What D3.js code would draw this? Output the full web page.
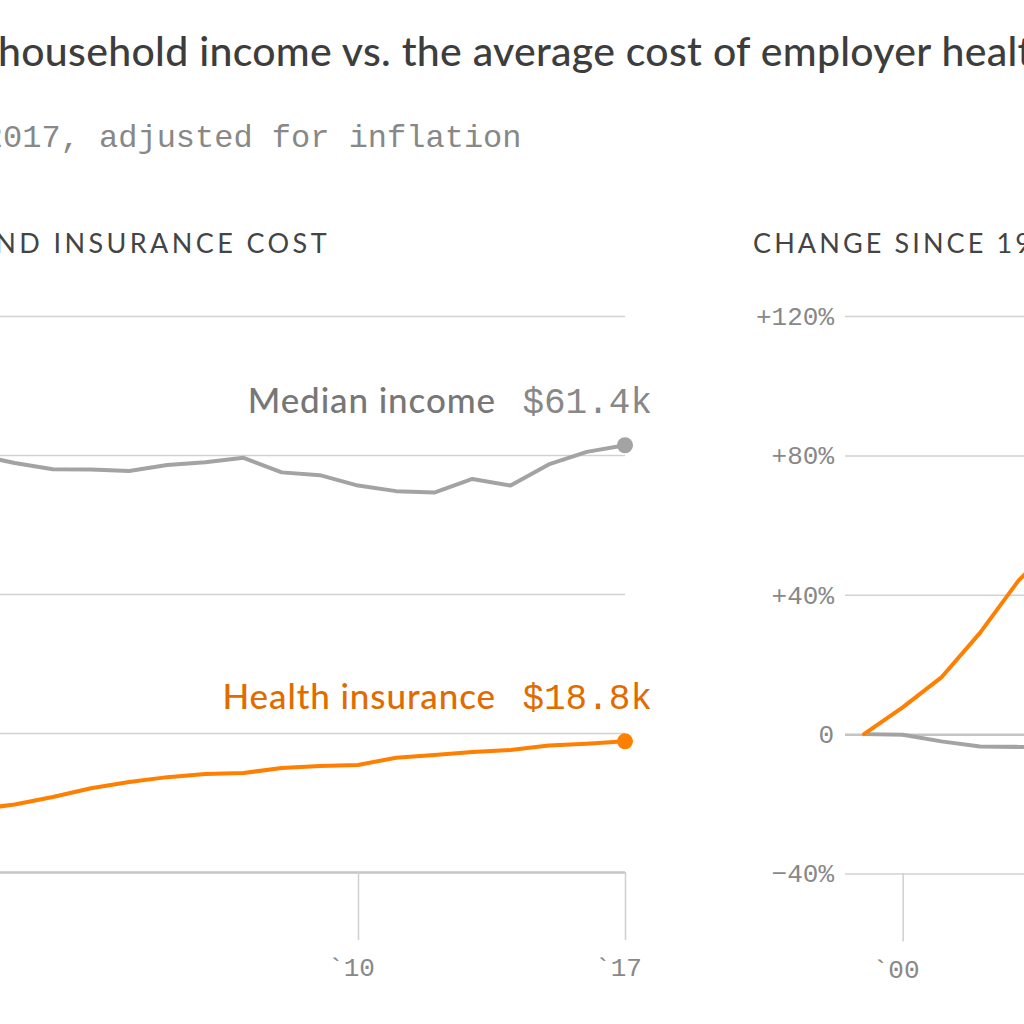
<!DOCTYPE html>
<html>
<head>
<meta charset="utf-8">
<script src="https://cdn.jsdelivr.net/npm/d3@7"></script>
<style>
  body { margin: 0; background: #fff; }
  svg { display: block; }
  .grid line { stroke: #d2d2d2; stroke-width: 1.5; }
  .grid .zero line { stroke: #c4c4c4; stroke-width: 2.5; }
  .grid text, .xax text { fill: #888; font-family: "Liberation Mono", monospace; font-size: 26px; }
  .xax line { stroke: #cfcfcf; stroke-width: 1.5; }
</style>
</head>
<body>
<svg id="chart" width="1024" height="1024"></svg>
<script>
// data, 2017 dollars (thousands)
var years = [1999, 2000, 2001, 2002, 2003, 2004, 2005, 2006, 2007, 2008, 2009, 2010, 2011, 2012, 2013, 2014, 2015, 2016, 2017];
var income = [60.1, 60.0, 58.85, 57.95, 57.9, 57.7, 58.55, 58.95, 59.6, 57.5, 57.1, 55.6, 54.8, 54.6, 56.55, 55.6, 58.65, 60.45, 61.4];
var insurance = [8.36, 9.0, 9.72, 10.79, 12.05, 12.95, 13.65, 14.1, 14.25, 14.95, 15.25, 15.4, 16.45, 16.85, 17.25, 17.55, 18.2, 18.45, 18.8];
var leftTicks = [0, 20, 40, 60, 80];
var rightTicks = [-40, 0, 40, 80, 120];
var yearTicks = [2000, 2010, 2017];

var title = "Median household income vs. the average cost of employer health insurance";
var subtitle = "1999\u20132017, adjusted for inflation";

var orange = "#ff7f00", orangeText = "#e06c00", gray = "#a3a3a3";

var svg = d3.select("#chart");

// title + subtitle (the chart is cropped on the left)
var t = svg.append("text")
    .attr("y", 66)
    .style("font-family", "Lato, sans-serif")
    .style("font-size", "41px")
    .style("letter-spacing", "0.3px")
    .style("font-weight", 500)
    .style("fill", "#3d3d3d")
    .text(title);
t.attr("x", -t.node().getSubStringLength(0, 7) - 2);

var st = svg.append("text")
    .attr("y", 147)
    .style("font-family", "Liberation Mono, monospace")
    .style("font-size", "32px")
    .style("fill", "#888")
    .text(subtitle);
st.attr("x", -st.node().getSubStringLength(0, 6) + 3);

// headers
svg.append("text")
    .attr("x", 330).attr("y", 253)
    .attr("text-anchor", "end")
    .style("font-family", "Lato, sans-serif")
    .style("font-size", "27px")
    .style("letter-spacing", "3.4px")
    .style("fill", "#444")
    .text("INCOME AND INSURANCE COST");

svg.append("text")
    .attr("x", 753).attr("y", 253)
    .style("font-family", "Lato, sans-serif")
    .style("font-size", "27px")
    .style("letter-spacing", "3.1px")
    .style("fill", "#444")
    .text("CHANGE SINCE 1999");

// ---------- left panel ----------
var xL = d3.scaleLinear().domain([1999, 2017]).range([-61.6, 625]);
var yL = d3.scaleLinear().domain([0, 80]).range([872, 316]);
var gridL0 = -81;

var gl = svg.append("g").attr("class", "grid")
    .attr("transform", "translate(" + gridL0 + ",0)")
    .call(d3.axisLeft(yL).tickValues(leftTicks).tickSize(-(625 - gridL0)).tickPadding(11)
        .tickFormat(function(d) { return "$" + d + "k"; }));
gl.select(".domain").remove();
gl.selectAll(".tick").classed("zero", function(d) { return d === 0; });

var xaL = svg.append("g").attr("class", "xax")
    .attr("transform", "translate(0," + yL(0) + ")")
    .call(d3.axisBottom(xL).tickValues(yearTicks).tickSize(68).tickPadding(18)
        .tickFormat(function(d) { return "`" + String(d).slice(2); }));
xaL.select(".domain").remove();
xaL.selectAll("text").attr("dx", -7);

var lineL = function(vals) {
  return d3.line().x(function(d, i) { return xL(years[i]); }).y(function(d) { return yL(d); })(vals);
};

svg.append("path").attr("d", lineL(income))
    .attr("fill", "none").attr("stroke", gray).attr("stroke-width", 4).attr("stroke-linejoin", "round");
svg.append("path").attr("d", lineL(insurance))
    .attr("fill", "none").attr("stroke", orange).attr("stroke-width", 4).attr("stroke-linejoin", "round");

var last = years.length - 1;
var ends = [
  {name: "Median income", val: income[last], line: gray, text: "#777", num: "#888"},
  {name: "Health insurance", val: insurance[last], line: orange, text: orangeText, num: orangeText}
];

ends.forEach(function(e) {
  var cx = xL(years[last]), cy = yL(e.val);
  svg.append("circle").attr("cx", cx).attr("cy", cy).attr("r", 8).attr("fill", e.line);
  svg.append("text")
      .attr("x", cx - 129).attr("y", cy - 32)
      .attr("text-anchor", "end")
      .style("font-family", "Lato, sans-serif")
      .style("font-size", "35px")
      .style("letter-spacing", "0.9px")
      .style("font-weight", 500)
      .style("fill", e.text)
      .text(e.name);
  svg.append("text")
      .attr("x", cx + 27).attr("y", cy - 32)
      .attr("text-anchor", "end")
      .style("font-family", "Liberation Mono, monospace")
      .style("font-size", "36px")
      .style("fill", e.num)
      .text("$" + e.val.toFixed(1) + "k");
});

// ---------- right panel ----------
var xR = d3.scaleLinear().domain([1999, 2017]).range([864, 1560]);
var yR = d3.scaleLinear().domain([-40, 120]).range([873.5, 316]);
var gridR0 = 845;

var gr = svg.append("g").attr("class", "grid")
    .attr("transform", "translate(" + gridR0 + ",0)")
    .call(d3.axisLeft(yR).tickValues(rightTicks).tickSize(-(1580 - gridR0)).tickPadding(11)
        .tickFormat(function(d) { return d > 0 ? "+" + d + "%" : (d < 0 ? "\u2212" + (-d) + "%" : "0"); }));
gr.select(".domain").remove();
gr.selectAll(".tick").classed("zero", function(d) { return d === 0; });

var xaR = svg.append("g").attr("class", "xax")
    .attr("transform", "translate(0," + yR(-40) + ")")
    .call(d3.axisBottom(xR).tickValues(yearTicks).tickSize(68).tickPadding(18)
        .tickFormat(function(d) { return "`" + String(d).slice(2); }));
xaR.select(".domain").remove();
xaR.selectAll("text").attr("dx", -7);

var pct = function(vals) {
  return vals.map(function(v) { return (v / vals[0] - 1) * 100; });
};
var lineR = d3.line().x(function(d, i) { return xR(years[i]); }).y(function(d) { return yR(d); });

svg.append("path").attr("d", lineR(pct(income)))
    .attr("fill", "none").attr("stroke", gray).attr("stroke-width", 4).attr("stroke-linejoin", "round");
svg.append("path").attr("d", lineR(pct(insurance)))
    .attr("fill", "none").attr("stroke", orange).attr("stroke-width", 4)
    .attr("stroke-linejoin", "round").attr("stroke-linecap", "round");
</script>
</body>
</html>
